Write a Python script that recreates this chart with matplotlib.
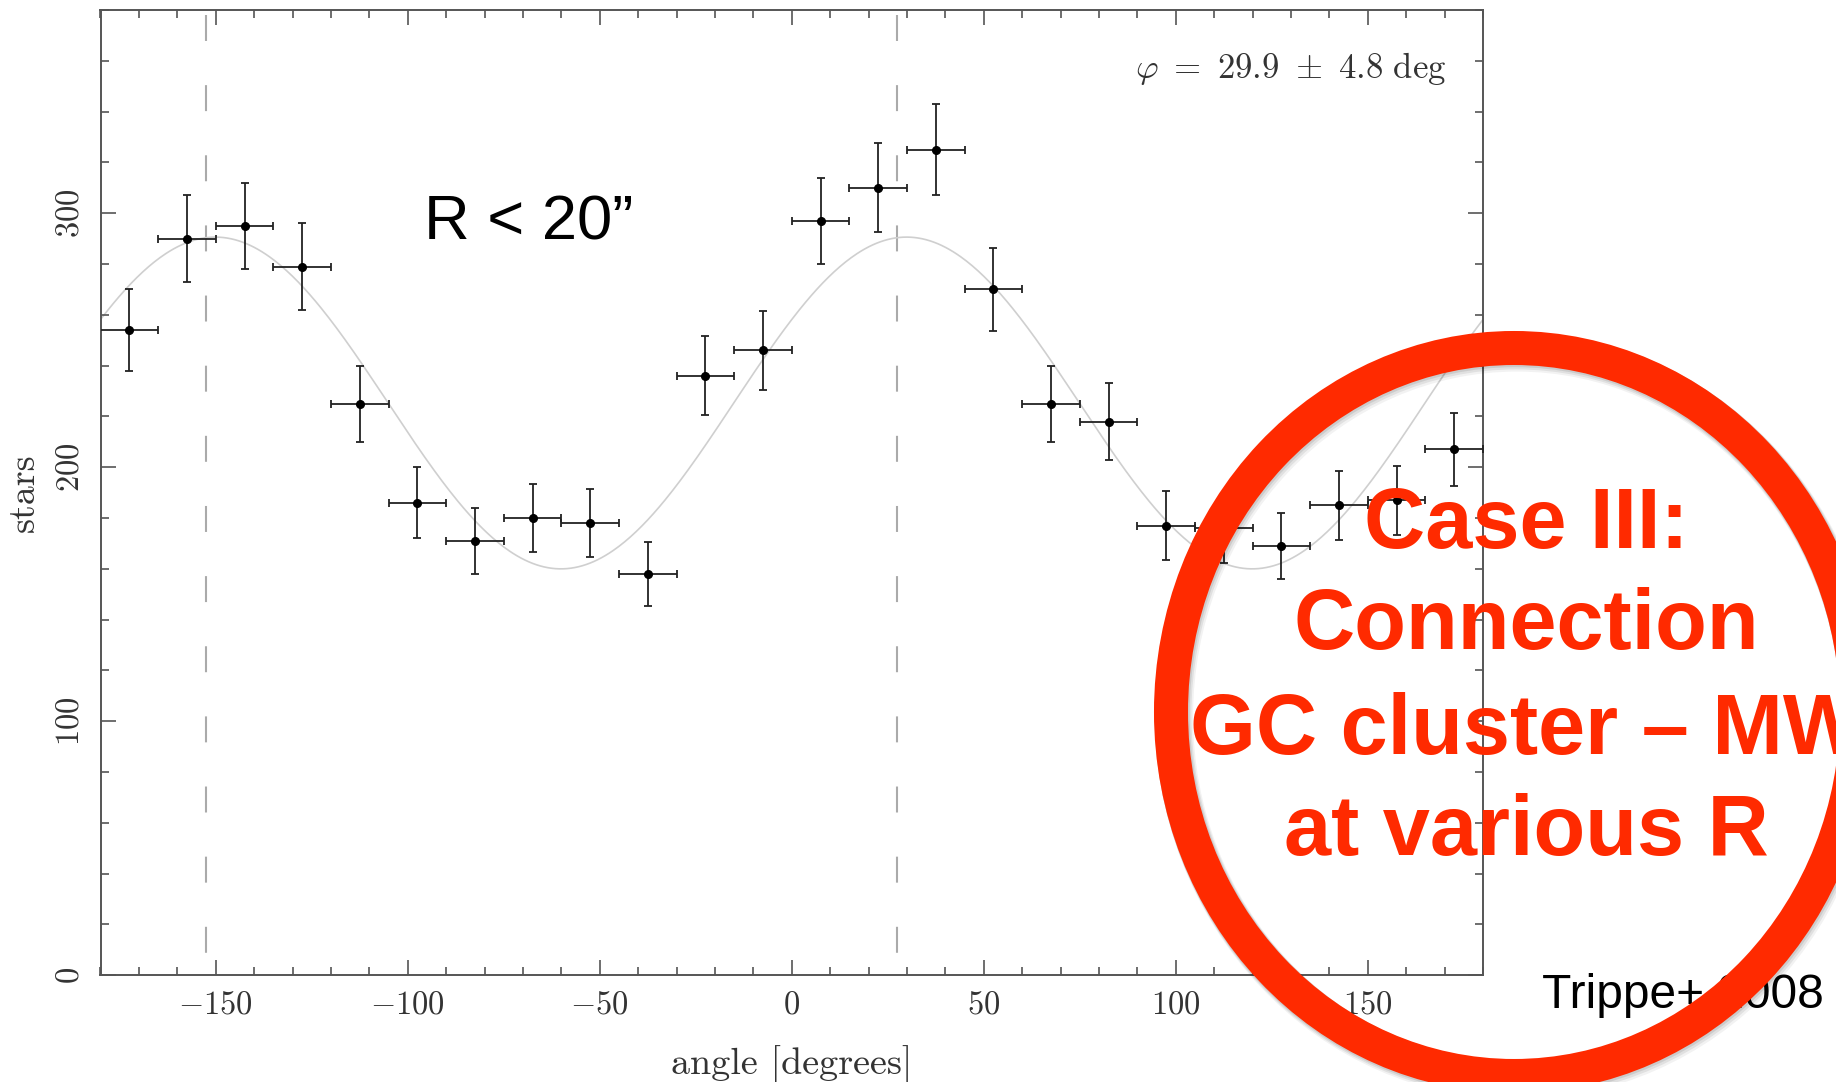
import matplotlib.pyplot as plt
import numpy as np
from matplotlib.patches import Ellipse
from matplotlib.ticker import MultipleLocator

plt.rcParams['mathtext.fontset'] = 'cm'
plt.rcParams['lines.scale_dashes'] = False

# star counts per 15 degree angular bin
angle = [-172.5, -157.5, -142.5, -127.5, -112.5, -97.5, -82.5, -67.5,
         -52.5, -37.5, -22.5, -7.5, 7.5, 22.5, 37.5, 52.5,
         67.5, 82.5, 97.5, 112.5, 127.5, 142.5, 157.5, 172.5]
stars = [254, 290, 295, 279, 225, 186, 171, 180,
         178, 158, 236, 246, 297, 310, 325, 270,
         225, 218, 177, 176, 169, 185, 187, 207]
stars_err = [16, 17, 17, 17, 15, 14, 13, 13.5,
             13.5, 12.5, 15.5, 15.5, 17, 17.5, 18, 16.5,
             15, 15, 13.5, 13.5, 13, 13.5, 13.5, 14.5]
bin_half = 7.5

# fitted model: mean + amp * cos(2 (angle - phi))
fit_mean = 225.3
fit_amp = 65.3
phi_fit = 29.9
phi_err = 4.8
plane_angle = 27.4

x_ticks = [-150, -100, -50, 0, 50, 100, 150]
x_tick_labels = [r'$-150$', r'$-100$', r'$-50$', r'$0$', r'$50$', r'$100$', r'$150$']
y_ticks = [0, 100, 200, 300]
y_tick_labels = [r'$0$', r'$100$', r'$200$', r'$300$']

W, H = 1836, 1082
fig = plt.figure(figsize=(W / 100, H / 100), dpi=100)
ax = fig.add_axes([100.5 / W, (H - 975.3) / H, 1382.5 / W, 965.3 / H])

axis_col = '#555555'
text_col = '#333333'

theta = np.linspace(-180, 180, 721)
model = fit_mean + fit_amp * np.cos(np.radians(2 * (theta - phi_fit)))
ax.plot(theta, model, color='#cfcfcf', lw=1.2, zorder=1)

for a in (plane_angle, plane_angle - 180):
    ax.axvline(a, color='#aaaaaa', lw=1.5, dashes=(0, 16, 18.7, 15.8), zorder=0)

ax.errorbar(angle, stars, xerr=bin_half, yerr=stars_err, fmt='o', ms=5.5,
            color='black', ecolor='#222222', elinewidth=1.3, capsize=2.9,
            capthick=1.3, zorder=3)

ax.set_xlim(-180, 180)
ax.set_ylim(0, 380)
ax.set_xticks(x_ticks)
ax.set_xticklabels(x_tick_labels)
ax.set_yticks(y_ticks)
ax.set_yticklabels(y_tick_labels, rotation=90, va='center')
ax.xaxis.set_minor_locator(MultipleLocator(10))
ax.yaxis.set_minor_locator(MultipleLocator(20))
ax.tick_params(which='both', direction='in', top=True, right=True,
               color=axis_col, width=1.2, labelsize=23.5, labelcolor=text_col)
ax.tick_params(which='major', length=10.8)
ax.tick_params(which='minor', length=5.8)
ax.tick_params(axis='x', pad=9)
ax.tick_params(axis='y', pad=11)
for s in ax.spines.values():
    s.set_color(axis_col)
    s.set_linewidth(1.4)

ax.set_xlabel('angle [degrees]', family='cmr10', fontsize=27.5,
              color=text_col, labelpad=18)
ax.set_ylabel('stars', family='cmr10', fontsize=27.5, color=text_col,
              labelpad=8)

ax.text(170.4, 357, r'$\varphi\ =\ %.1f\ \pm\ %.1f\ \mathrm{deg}$' % (phi_fit, phi_err),
        ha='right', va='center', fontsize=25, color=text_col)


def px(x, y):
    # pixel position from the top-left corner, in inches from bottom-left
    return x / 100, (H - y) / 100


fig.text(*px(424, 240), 'R < 20\u201d', transform=fig.dpi_scale_trans,
         family='Liberation Sans', fontsize=45.5, color='black',
         ha='left', va='baseline')

fig.text(*px(1542, 1008), 'Trippe+ 2008', transform=fig.dpi_scale_trans,
         family='Liberation Sans', fontsize=34.5, color='black',
         ha='left', va='baseline')

# red ring with a faint drop shadow
ring_red = '#ff2a00'
cx, cy = px(1514, 712)
for k, al in ((3, 0.05), (2, 0.07), (1, 0.09)):
    fig.add_artist(Ellipse((cx + 0.01 * k, cy - 0.015 * k), 6.86, 7.28,
                           transform=fig.dpi_scale_trans, fill=False,
                           ec=(0, 0, 0, al), lw=24.5 + k, zorder=9))
fig.add_artist(Ellipse((cx, cy), 6.86, 7.28, transform=fig.dpi_scale_trans,
                       fill=False, ec=ring_red, lw=24.5, zorder=10))

case_lines = ['Case III:', 'Connection', 'GC cluster \u2013 MW', 'at various R']
baselines = [548, 649, 754, 855]
for line, yb in zip(case_lines, baselines):
    fig.text(*px(1526, yb), line, transform=fig.dpi_scale_trans,
             family='Liberation Sans', weight='bold', fontsize=61,
             color=ring_red, ha='center', va='baseline', zorder=11)

fig.savefig('out.png', dpi=100)
